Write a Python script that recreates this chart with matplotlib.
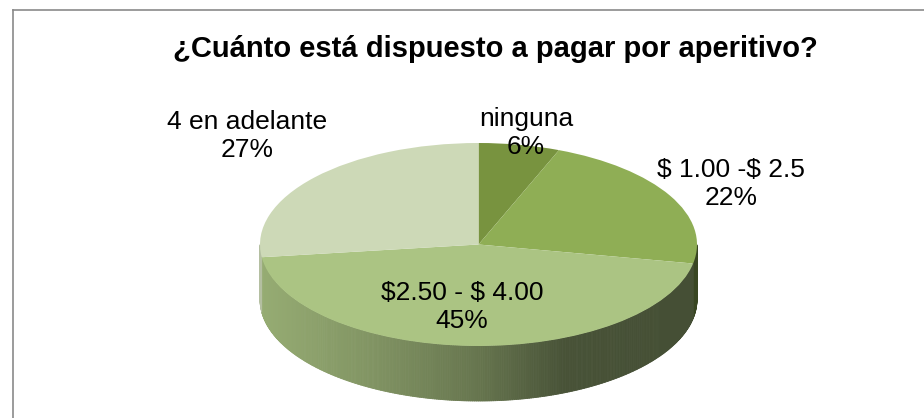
import numpy as np
import matplotlib
matplotlib.use("Agg")
import matplotlib.pyplot as plt
from matplotlib.collections import PolyCollection
from matplotlib.colors import to_rgb
from matplotlib.lines import Line2D

# ---------------------------------------------------------------
# Data
# ---------------------------------------------------------------
TITLE = "¿Cuánto está dispuesto a pagar por aperitivo?"
categories = ["ninguna", "$ 1.00 -$ 2.5", "$2.50 - $ 4.00", "4 en adelante"]
percentages = [6, 22, 45, 27]
slice_colors = ["#78933f", "#8fae55", "#abc483", "#cdd9b7"]

# label centres in figure pixels (x, y from top)
label_pos = [(526, 133), (731, 184), (462, 307), (247, 136)]

# ---------------------------------------------------------------
# Layout (pixels)
# ---------------------------------------------------------------
W, H = 924, 418
CX, CY = 478.5, 244.5      # centre of top ellipse
RX, RY = 218.5, 101.5      # ellipse radii
DEPTH = 55 / RY            # side wall depth in axis units
XPAD, YTOP, YBOT = 0.1, 0.1, 0.75

plt.rcParams["font.family"] = ["Liberation Sans", "DejaVu Sans"]

fig = plt.figure(figsize=(W / 100, H / 100), dpi=100)
fig.patch.set_facecolor("white")

# pie axes, x and y units map to RX and RY pixels
ax_w = (2 + 2 * XPAD) * RX
ax_h = (1 + YTOP + 1 + YBOT) * RY
ax_left = CX - (1 + XPAD) * RX
ax_bottom = H - (CY + (1 + YBOT) * RY)
ax = fig.add_axes([ax_left / W, ax_bottom / H, ax_w / W, ax_h / H])

# side wall of the 3D pie, drawn as thin strips with a left-to-right shade
vals = np.array(percentages, dtype=float)
fracs = vals / vals.sum()
starts = 90 - 360 * np.concatenate([[0], np.cumsum(fracs)[:-1]])
ends = starts - 360 * fracs

polys, fcols = [], []
for s, e, col in zip(starts, ends, slice_colors):
    base = np.array(to_rgb(col))
    t = np.radians(np.linspace(e, s, max(int((s - e) * 2), 2)))
    for t1, t2 in zip(t[:-1], t[1:]):
        if np.sin((t1 + t2) / 2) >= 0:
            continue
        x1, y1 = np.cos(t1), np.sin(t1)
        x2, y2 = np.cos(t2), np.sin(t2)
        polys.append([(x1, y1), (x2, y2), (x2, y2 - DEPTH), (x1, y1 - DEPTH)])
        xm = (x1 + x2) / 2
        shade = np.interp(xm, [-1, -0.5, 0.0, 0.4, 1.0],
                          [0.88, 0.76, 0.60, 0.42, 0.40])
        fcols.append(np.clip(base * shade, 0, 1))

wall = PolyCollection(polys, facecolors=fcols, edgecolors=fcols,
                      linewidths=0.6, zorder=1)
ax.add_collection(wall)

ax.pie(percentages, colors=slice_colors, startangle=90, counterclock=False,
       wedgeprops=dict(linewidth=0, zorder=2))
ax.set_aspect("auto")
ax.set_xlim(-1 - XPAD, 1 + XPAD)
ax.set_ylim(-1 - YBOT, 1 + YTOP)
ax.axis("off")

# labels
for name, pct, (lx, ly) in zip(categories, percentages, label_pos):
    fig.text(lx / W, 1 - ly / H, f"{name}\n{pct}%", ha="center", va="center",
             multialignment="center", fontsize=19, linespacing=1.18,
             color="black", parse_math=False)

fig.text(495 / W, 1 - 49 / H, TITLE, ha="center", va="center",
         fontsize=21, fontweight="bold", color="black", parse_math=False)

# chart area border (only left and top edges fall inside the image)
bx, by = 12.5 / W, 1 - 9.5 / H
fig.add_artist(Line2D([bx, bx], [by, -0.05], color="#8a8a8a", lw=1.2))
fig.add_artist(Line2D([bx, 1.05], [by, by], color="#8a8a8a", lw=1.2))

fig.savefig("out.png", dpi=100, facecolor="white")
